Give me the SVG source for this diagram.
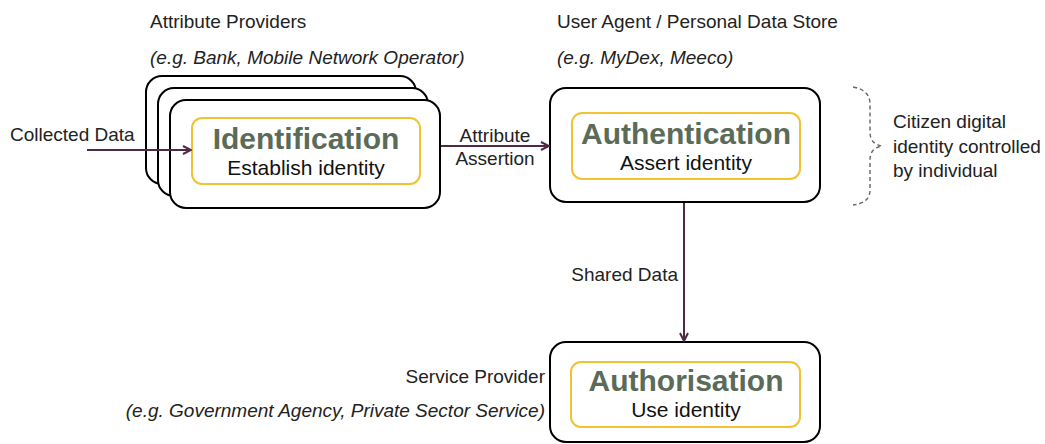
<svg xmlns="http://www.w3.org/2000/svg" width="1045" height="444" viewBox="0 0 1045 444">
  <style>
    .bg { fill: #ffffff; }
    .card { fill: #ffffff; stroke: #000000; stroke-width: 2; }
    .inner { fill: #ffffff; stroke: #f1c232; stroke-width: 2; }
    .title { font-family: "Liberation Sans", Arial, sans-serif; font-weight: bold; font-size: 30px; fill: #5a6b58; text-anchor: middle; }
    .sub { font-family: "Liberation Sans", Arial, sans-serif; font-size: 21px; fill: #111111; text-anchor: middle; }
    .lbl { font-family: "Liberation Sans", Arial, sans-serif; font-size: 19px; fill: #222222; }
    .it { font-style: italic; }
    .edge { fill: none; stroke: #4f2a47; stroke-width: 2; }
    .brace { fill: none; stroke: #666666; stroke-width: 1.4; stroke-dasharray: 4 3; }
  </style>
  <defs>
    <marker id="arrow" viewBox="0 0 10 10" refX="9" refY="5" markerWidth="5" markerHeight="5" orient="auto" markerUnits="strokeWidth">
      <path d="M1,1 L9,5 L1,9" fill="none" stroke="#4f2a47" stroke-width="2"/>
    </marker>
  </defs>

  <rect class="bg" x="0" y="0" width="1045" height="444"/>

  <!-- headings -->
  <g id="headings">
    <text class="lbl" x="150" y="28">Attribute Providers</text>
    <text class="lbl it" x="150" y="64">(e.g. Bank, Mobile Network Operator)</text>
    <text class="lbl" x="557" y="28">User Agent / Personal Data Store</text>
    <text class="lbl it" x="557" y="64">(e.g. MyDex, Meeco)</text>
    <text class="lbl" x="545" y="383" text-anchor="end">Service Provider</text>
    <text class="lbl it" x="545" y="417" text-anchor="end">(e.g. Government Agency, Private Sector Service)</text>
  </g>

  <!-- identification: stacked provider cards -->
  <g id="identification">
    <rect class="card" x="146" y="76" width="270" height="108" rx="16"/>
    <rect class="card" x="158" y="88" width="270" height="108" rx="16"/>
    <rect class="card" x="170" y="100" width="270" height="108" rx="16"/>
    <rect class="inner" x="192" y="118" width="228" height="66" rx="10"/>
    <text class="title" x="306" y="149">Identification</text>
    <text class="sub" x="306" y="175">Establish identity</text>
  </g>

  <!-- authentication -->
  <g id="authentication">
    <rect class="card" x="550" y="88" width="270" height="114" rx="16"/>
    <rect class="inner" x="572" y="113" width="228" height="66" rx="10"/>
    <text class="title" x="686" y="144">Authentication</text>
    <text class="sub" x="686" y="170">Assert identity</text>
  </g>

  <!-- authorisation -->
  <g id="authorisation">
    <rect class="card" x="550" y="342" width="270" height="100" rx="16"/>
    <rect class="inner" x="571" y="362" width="229" height="65" rx="10"/>
    <text class="title" x="686" y="391">Authorisation</text>
    <text class="sub" x="686" y="417">Use identity</text>
  </g>

  <!-- citizen-controlled bracket -->
  <g id="citizen-note">
    <path class="brace" d="M853,87 Q870,90 870,104 L870,132 Q870,144 882,146 Q870,148 870,160 L870,190 Q870,203 853,205"/>
    <text class="lbl" x="893" y="128">Citizen digital</text>
    <text class="lbl" x="893" y="153">identity controlled</text>
    <text class="lbl" x="893" y="177">by individual</text>
  </g>

  <!-- connectors -->
  <g id="connectors">
    <path class="edge" d="M87,150 L191,150" marker-end="url(#arrow)"/>
    <text class="lbl" x="10" y="141">Collected Data</text>
    <path class="edge" d="M441,146 L549,146" marker-end="url(#arrow)"/>
    <text class="lbl" x="495" y="142" text-anchor="middle">Attribute</text>
    <text class="lbl" x="495" y="165" text-anchor="middle">Assertion</text>
    <path class="edge" d="M684,203 L684,341" marker-end="url(#arrow)"/>
    <text class="lbl" x="678" y="281" text-anchor="end">Shared Data</text>
  </g>
</svg>
